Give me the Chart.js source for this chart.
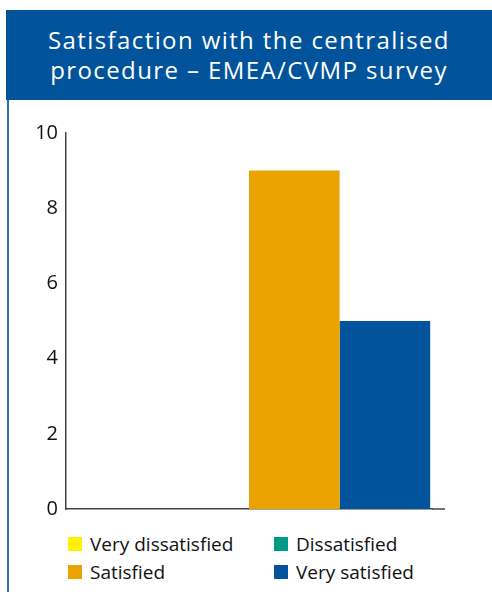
<!DOCTYPE html>
<html>
<head>
<meta charset="utf-8">
<script src="https://cdn.jsdelivr.net/npm/chart.js@4.4.0/dist/chart.umd.min.js"></script>
<style>
  body { margin: 0; background: #fff; width: 492px; height: 592px; overflow: hidden; position: relative; font-family: "Open Sans", sans-serif; }
  #header {
    position: absolute; left: 6px; top: 10px; width: 486px; height: 90px;
    background: #01539c; color: #fff; text-align: center;
    font-size: 24px; line-height: 30px; letter-spacing: 1.4px;
    box-sizing: border-box; padding-top: 15px;
  }
  #leftline { position: absolute; left: 7px; top: 100px; width: 2px; height: 492px; background: #2d6db2; }
  #wrap { position: absolute; left: 0; top: 100px; width: 492px; height: 430px; }
  #legend {
    position: absolute; left: 68px; top: 532px;
    display: grid; grid-template-columns: 206px 200px; row-gap: 4px;
    font-size: 19px; color: #111;
  }
  .item { display: flex; align-items: center; height: 24px; }
  .box { width: 14px; height: 14px; margin-right: 8px; }
</style>
</head>
<body>
<div id="header">Satisfaction with the centralised<br>procedure – EMEA/CVMP survey</div>
<div id="leftline"></div>
<div id="wrap"><canvas id="chart"></canvas></div>
<div id="legend"></div>
<script>
var categories = [''];
var seriesNames = ['Very dissatisfied', 'Dissatisfied', 'Satisfied', 'Very satisfied'];
var seriesValues = [0, 0, 9, 5];
var seriesColors = ['#fff200', '#009a85', '#eaa300', '#01539c'];
var yTicks = [0, 2, 4, 6, 8, 10];

var datasets = seriesNames.map(function (name, i) {
    return {
        label: name,
        data: [seriesValues[i]],
        backgroundColor: seriesColors[i],
        borderWidth: 0,
        barPercentage: 1,
        categoryPercentage: 0.99
    };
});

// the x axis line runs a bit past the last bar
var axisTail = {
    id: 'axisTail',
    afterDraw: function (chart) {
        var c = chart.ctx, a = chart.chartArea;
        c.save();
        c.strokeStyle = '#444';
        c.lineWidth = 1.5;
        c.beginPath();
        c.moveTo(a.right, a.bottom);
        c.lineTo(a.right + 13, a.bottom);
        c.stroke();
        c.restore();
    }
};

var ctx = document.getElementById('chart');

var myChart = new Chart(ctx, {
    type: 'bar',
    data: {
        labels: categories,
        datasets: datasets
    },
    options: {
        responsive: true,
        maintainAspectRatio: false,
        animation: false,
        layout: {
            padding: { top: 33, right: 60, bottom: 21, left: 0 }
        },
        plugins: {
            legend: { display: false },
            tooltip: { enabled: false }
        },
        scales: {
            x: {
                ticks: { display: false },
                grid: { display: false, drawTicks: false },
                border: { display: true, color: '#444', width: 1.5 },
                afterFit: function (scale) { scale.height = 0; }
            },
            y: {
                min: 0,
                max: 10,
                afterBuildTicks: function (scale) {
                    scale.ticks = yTicks.map(function (v) { return { value: v }; });
                },
                ticks: {
                    color: '#111',
                    padding: 8,
                    font: { family: 'Open Sans', size: 20 }
                },
                grid: { display: false, drawTicks: false },
                border: { display: true, color: '#444', width: 1.5 },
                afterFit: function (scale) { scale.width = 66; }
            }
        }
    },
    plugins: [axisTail]
});

// legend in two columns
var legend = document.getElementById('legend');
myChart.data.datasets.forEach(function (ds) {
    var item = document.createElement('div');
    item.className = 'item';
    item.innerHTML = '<span class="box" style="background:' + ds.backgroundColor + '"></span>' + ds.label;
    legend.appendChild(item);
});
</script>
</body>
</html>
